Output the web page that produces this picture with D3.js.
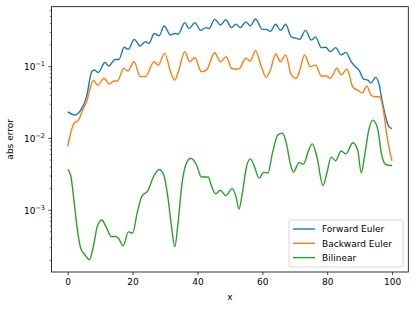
<!DOCTYPE html>
<html>
<head>
<meta charset="utf-8">
<script src="https://cdn.jsdelivr.net/npm/d3@7"></script>
<style>
  body { margin: 0; background: #fff; }
  svg text { font-family: "DejaVu Sans", sans-serif; fill: #000; }
</style>
</head>
<body>
<div id="chart"></div>
<script>
// series (x, abs error)
const forwardX = [0, 2.3, 3.8, 5.8, 7.4, 8.2, 9.4, 11.5, 12.7, 14.6, 15.8, 17.4, 18.7, 20.5, 22.3, 24, 25, 26.7, 28.2, 29.7, 31.7, 33, 34.1, 36.1, 37.4, 39.2, 41, 42.6, 43.6, 45.3, 47.1, 48.7, 50.5, 51.8, 53.2, 54.9, 56.3, 57.9, 60, 61.2, 62.5, 64.1, 65.6, 67.2, 68.9, 70.3, 71.5, 73.3, 75.1, 76.4, 78.2, 79.5, 81, 82.6, 84.3, 85.8, 87.4, 88.7, 89.9, 91.2, 92.5, 93.5, 94.9, 95.9, 96.9, 97.9, 99, 100]
const forwardY = [0.0234, 0.0212, 0.024, 0.038, 0.085, 0.09, 0.083, 0.114, 0.102, 0.126, 0.126, 0.186, 0.174, 0.24, 0.194, 0.223, 0.21, 0.29, 0.27, 0.368, 0.276, 0.29, 0.285, 0.41, 0.34, 0.41, 0.32, 0.35, 0.34, 0.456, 0.38, 0.45, 0.35, 0.39, 0.35, 0.42, 0.37, 0.46, 0.33, 0.33, 0.31, 0.39, 0.32, 0.39, 0.26, 0.25, 0.24, 0.32, 0.235, 0.26, 0.184, 0.186, 0.162, 0.184, 0.146, 0.158, 0.117, 0.1, 0.088, 0.067, 0.065, 0.059, 0.071, 0.059, 0.034, 0.021, 0.0146, 0.0137]

const backwardX = [0, 0.9, 1.9, 3.3, 4.6, 6, 6.9, 7.9, 9.2, 11.2, 12.8, 14.3, 15.3, 17.3, 18.5, 20.5, 22.3, 24, 26.6, 27.9, 29.9, 31.7, 33, 34.1, 36.1, 37.6, 39.2, 41.2, 42.8, 45.3, 47.1, 48.9, 50.5, 52.2, 53, 54.9, 56.3, 57.9, 59.7, 61.2, 62.5, 64.1, 65.6, 67.2, 68.9, 70.5, 71.5, 73, 74.8, 76.4, 78.2, 79.7, 81, 83, 84.3, 86.1, 87.9, 89.4, 90.8, 92.2, 93.5, 94.9, 96.1, 97.3, 98.3, 99.4, 100]
const backwardY = [0.0077, 0.0118, 0.0162, 0.018, 0.025, 0.0344, 0.05, 0.065, 0.055, 0.069, 0.057, 0.063, 0.063, 0.095, 0.087, 0.117, 0.073, 0.073, 0.117, 0.105, 0.153, 0.085, 0.065, 0.085, 0.162, 0.117, 0.133, 0.085, 0.09, 0.156, 0.117, 0.138, 0.095, 0.092, 0.095, 0.131, 0.12, 0.167, 0.1, 0.071, 0.09, 0.15, 0.117, 0.146, 0.077, 0.069, 0.088, 0.146, 0.1, 0.105, 0.074, 0.074, 0.069, 0.095, 0.077, 0.092, 0.052, 0.047, 0.043, 0.054, 0.04, 0.038, 0.038, 0.025, 0.0118, 0.0062, 0.0049]

const bilinearX = [0, 0.9, 1.9, 3, 4, 5.3, 6.7, 7.9, 9.1, 10.5, 11.8, 13.5, 14.9, 15.6, 17.1, 18.7, 20, 21.4, 22.8, 24.8, 26.4, 28.2, 29.6, 31, 32, 33, 34.1, 35.1, 36.4, 37.9, 39.7, 41.2, 42.3, 43.3, 44.3, 45.6, 47.1, 48.7, 50.7, 51.8, 52.8, 53.8, 55.1, 56.3, 57.6, 59, 60.5, 61.7, 63.1, 64.8, 66.2, 67.4, 68.6, 69.6, 71.3, 72.7, 74.1, 75.4, 76.8, 78.7, 79.9, 81.2, 82.6, 84.3, 85.8, 87.9, 89.4, 90.5, 91.5, 92.8, 94, 95.4, 96.9, 98.2, 100]
const bilinearY = [0.0037, 0.0031, 0.00139, 0.00053, 0.000295, 0.00024, 0.000204, 0.00031, 0.00059, 0.00073, 0.00059, 0.00043, 0.00043, 0.00041, 0.00032, 0.0005, 0.00048, 0.00091, 0.00155, 0.0019, 0.0029, 0.0037, 0.0031, 0.00139, 0.00059, 0.00031, 0.00073, 0.0021, 0.0043, 0.0053, 0.0043, 0.0029, 0.0029, 0.0029, 0.0022, 0.0017, 0.0019, 0.0016, 0.002, 0.0016, 0.00104, 0.0017, 0.004, 0.0052, 0.004, 0.0028, 0.0034, 0.0033, 0.0062, 0.0112, 0.0118, 0.0086, 0.0045, 0.0034, 0.0046, 0.0044, 0.0065, 0.0084, 0.0056, 0.0022, 0.0033, 0.0055, 0.0049, 0.0067, 0.0061, 0.0087, 0.0069, 0.0033, 0.0056, 0.013, 0.018, 0.0146, 0.0056, 0.0043, 0.0042]

const seriesNames = ["Forward Euler", "Backward Euler", "Bilinear"]
const seriesColors = ["#1f77b4", "#ff7f0e", "#2ca02c"]
const xTicks = [0, 20, 40, 60, 80, 100]
const yMajor = [1e-3, 1e-2, 1e-1]
const yExp = ["\u22123", "\u22122", "\u22121"]

// set the dimensions and margins of the graph
const margin = {top: 6.7, right: 7.7, bottom: 38, left: 51.5},
    width = 416 - margin.left - margin.right,
    height = 310 - margin.top - margin.bottom;

const svg = d3.select("#chart")
  .append("svg")
    .attr("width", 416)
    .attr("height", 310)
  .append("g")
    .attr("transform", `translate(${margin.left}, ${margin.top})`);

const x = d3.scaleLinear().domain([-5, 105]).range([0, width]);
const y = d3.scaleLog().domain([Math.pow(10, -3.86), Math.pow(10, -0.165)]).range([height, 0]);

// minor ticks on the log axis
const yMinor = []
for (let e = -4; e <= -1; e++) {
  for (let m = 2; m <= 9; m++) {
    const v = m * Math.pow(10, e)
    if (v > y.domain()[0] && v < y.domain()[1]) yMinor.push(v)
  }
}

// lines
const series = [
  {xs: forwardX, ys: forwardY},
  {xs: backwardX, ys: backwardY},
  {xs: bilinearX, ys: bilinearY}
]
const line = d3.line()
  .curve(d3.curveMonotoneX)
  .x(d => x(d[0]))
  .y(d => y(d[1]))

series.forEach((s, i) => {
  svg.append("path")
    .datum(s.xs.map((v, j) => [v, s.ys[j]]))
    .attr("d", line)
    .attr("fill", "none")
    .attr("stroke", seriesColors[i])
    .attr("stroke-width", 1.4)
    .attr("stroke-linejoin", "round")
})

// X axis
const xAxis = svg.append("g")
  .attr("transform", `translate(0, ${height})`)
  .call(d3.axisBottom(x).tickValues(xTicks).tickSize(3.2).tickPadding(3.2).tickFormat(d3.format("d")))
xAxis.select(".domain").remove()
xAxis.selectAll("text").style("font-size", "9px")
xAxis.selectAll("line").attr("stroke-width", 0.7)

// Y axis minor ticks
svg.append("g")
  .selectAll("line")
  .data(yMinor)
  .join("line")
    .attr("x1", -1.8).attr("x2", 0)
    .attr("y1", d => y(d)).attr("y2", d => y(d))
    .attr("stroke", "#000").attr("stroke-width", 0.5)

// Y axis major ticks
const yAxis = svg.append("g")
yAxis.selectAll("line")
  .data(yMajor)
  .join("line")
    .attr("x1", -3.2).attr("x2", 0)
    .attr("y1", d => y(d)).attr("y2", d => y(d))
    .attr("stroke", "#000").attr("stroke-width", 0.7)
const yLabels = yAxis.selectAll("text")
  .data(yMajor)
  .join("text")
    .attr("x", -6.5)
    .attr("y", d => y(d) + 3.5)
    .attr("text-anchor", "end")
    .style("font-size", "9px")
yLabels.append("tspan").text("10")
yLabels.append("tspan")
  .attr("dy", -4)
  .style("font-size", "6.5px")
  .text((d, i) => yExp[i])

// frame
svg.append("rect")
  .attr("width", width).attr("height", height)
  .attr("fill", "none").attr("stroke", "#000").attr("stroke-width", 0.8)

// axis labels
svg.append("text")
  .attr("x", width / 2)
  .attr("y", height + 28)
  .attr("text-anchor", "middle")
  .style("font-size", "9px")
  .text("x")

svg.append("text")
  .attr("transform", "rotate(-90)")
  .attr("x", -height / 2)
  .attr("y", -39)
  .attr("text-anchor", "middle")
  .style("font-size", "9px")
  .text("abs error")

// legend
const legend = svg.append("g")
  .attr("transform", `translate(${289 - margin.left}, ${220 - margin.top})`)
legend.append("rect")
  .attr("width", 114).attr("height", 47)
  .attr("rx", 2)
  .attr("fill", "#fff").attr("fill-opacity", 0.8)
  .attr("stroke", "#ccc").attr("stroke-width", 0.8)
seriesNames.forEach((name, i) => {
  const ly = 9 + i * 14.3
  legend.append("line")
    .attr("x1", 4).attr("x2", 26)
    .attr("y1", ly).attr("y2", ly)
    .attr("stroke", seriesColors[i]).attr("stroke-width", 1.4)
  legend.append("text")
    .attr("x", 33).attr("y", ly + 3.3)
    .style("font-size", "9px")
    .text(name)
})
</script>
</body>
</html>
